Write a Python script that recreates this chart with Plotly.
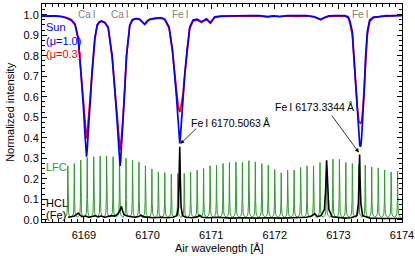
import plotly.graph_objects as go

# ---------------- data ----------------
sun_wl = [6168.338, 6168.45, 6168.55, 6168.65, 6168.73, 6168.80, 6168.859, 6168.911, 6168.953, 6168.989,
          6169.015, 6169.030, 6169.040, 6169.050, 6169.066, 6169.092, 6169.128, 6169.171, 6169.207, 6169.24,
          6169.276, 6169.328, 6169.380, 6169.443, 6169.485, 6169.521, 6169.548, 6169.560, 6169.568, 6169.576,
          6169.590, 6169.615, 6169.642, 6169.669, 6169.720, 6169.76, 6169.82, 6169.877, 6169.92, 6169.956,
          6169.99, 6170.035, 6170.12, 6170.218, 6170.27, 6170.338, 6170.391, 6170.427, 6170.454, 6170.479,
          6170.495, 6170.506, 6170.517, 6170.533, 6170.558, 6170.585, 6170.621, 6170.663, 6170.715, 6170.78,
          6170.847, 6170.926, 6170.988, 6171.056, 6171.15, 6171.3, 6171.45, 6171.6, 6171.75, 6171.889,
          6171.98, 6172.077, 6172.2, 6172.35, 6172.5, 6172.62, 6172.68, 6172.722, 6172.77, 6172.85,
          6172.95, 6173.098, 6173.15, 6173.177, 6173.219, 6173.244, 6173.271, 6173.298, 6173.323, 6173.335,
          6173.345, 6173.355, 6173.365, 6173.386, 6173.408, 6173.428, 6173.455, 6173.491, 6173.55, 6173.648,
          6173.75, 6173.85, 6174.0]
sun_mu10 = [0.993, 0.995, 0.994, 0.991, 0.985, 0.975, 0.955, 0.886, 0.72, 0.56,
            0.42, 0.34, 0.307, 0.34, 0.42, 0.56, 0.72, 0.886, 0.95, 0.965,
            0.969, 0.962, 0.94, 0.80, 0.64, 0.48, 0.35, 0.285, 0.262, 0.285,
            0.35, 0.48, 0.64, 0.80, 0.95, 0.975, 0.982, 0.978, 0.965, 0.953,
            0.968, 0.978, 0.983, 0.985, 0.978, 0.94, 0.83, 0.71, 0.60, 0.49,
            0.41, 0.372, 0.41, 0.49, 0.60, 0.71, 0.83, 0.94, 0.974, 0.978,
            0.966, 0.98, 0.961, 0.99, 0.993, 0.995, 0.994, 0.996, 0.995, 0.99,
            0.994, 0.991, 0.995, 0.994, 0.995, 0.99, 0.981, 0.977, 0.985, 0.994,
            0.995, 0.995, 0.99, 0.974, 0.917, 0.80, 0.64, 0.51, 0.40, 0.365,
            0.356, 0.365, 0.40, 0.51, 0.64, 0.80, 0.917, 0.974, 0.988, 0.99,
            0.995, 0.994, 0.997]
sun_mu03 = [0.993, 0.994, 0.993, 0.990, 0.983, 0.972, 0.950, 0.875, 0.71, 0.565,
            0.47, 0.415, 0.396, 0.415, 0.47, 0.575, 0.725, 0.88, 0.945, 0.962,
            0.967, 0.96, 0.935, 0.79, 0.64, 0.495, 0.40, 0.355, 0.340, 0.355,
            0.40, 0.50, 0.65, 0.80, 0.945, 0.972, 0.98, 0.976, 0.962, 0.952,
            0.965, 0.976, 0.981, 0.983, 0.975, 0.935, 0.82, 0.71, 0.615, 0.56,
            0.535, 0.526, 0.535, 0.56, 0.615, 0.71, 0.82, 0.932, 0.968, 0.974,
            0.962, 0.976, 0.958, 0.986, 0.991, 0.993, 0.995, 0.994, 0.993, 0.989,
            0.993, 0.99, 0.994, 0.992, 0.994, 0.989, 0.98, 0.975, 0.983, 0.992,
            0.993, 0.993, 0.985, 0.965, 0.90, 0.79, 0.65, 0.545, 0.48, 0.472,
            0.47, 0.472, 0.48, 0.545, 0.65, 0.80, 0.90, 0.965, 0.985, 0.99,
            0.994, 0.995, 0.996]

lfc_peak_wl = [6168.746, 6168.848, 6168.949, 6169.051, 6169.153, 6169.254, 6169.356, 6169.458, 6169.559, 6169.661,
               6169.763, 6169.864, 6169.966, 6170.068, 6170.169, 6170.271, 6170.373, 6170.474, 6170.576, 6170.677,
               6170.779, 6170.881, 6170.982, 6171.084, 6171.186, 6171.287, 6171.389, 6171.491, 6171.592, 6171.694,
               6171.796, 6171.897, 6171.999, 6172.101, 6172.202, 6172.304, 6172.406, 6172.507, 6172.609, 6172.711,
               6172.812, 6172.914, 6173.016, 6173.117, 6173.219, 6173.321, 6173.422, 6173.524, 6173.626, 6173.727,
               6173.829, 6173.931]
lfc_peak_int = [0.263, 0.274, 0.291, 0.304, 0.307, 0.310, 0.310, 0.307, 0.310, 0.300,
                0.290, 0.282, 0.263, 0.247, 0.233, 0.230, 0.222, 0.225, 0.226, 0.233,
                0.242, 0.250, 0.263, 0.266, 0.274, 0.279, 0.282, 0.279, 0.288, 0.282,
                0.274, 0.266, 0.245, 0.229, 0.242, 0.242, 0.255, 0.263, 0.263, 0.279,
                0.285, 0.295, 0.295, 0.279, 0.274, 0.270, 0.266, 0.258, 0.253, 0.242,
                0.233, 0.237]
lfc_base = 0.012

hcl_wl = [6168.75, 6168.80, 6168.85, 6168.88, 6168.91, 6168.94, 6168.97, 6169.02, 6169.08, 6169.13,
          6169.18, 6169.22, 6169.27, 6169.33, 6169.38, 6169.43, 6169.48, 6169.52, 6169.55, 6169.575,
          6169.59, 6169.605, 6169.63, 6169.68, 6169.74, 6169.80, 6169.86, 6169.90, 6169.94, 6170.00,
          6170.10, 6170.20, 6170.30, 6170.40, 6170.46, 6170.485, 6170.497, 6170.506, 6170.515, 6170.527,
          6170.55, 6170.60, 6170.70, 6170.78, 6170.82, 6170.86, 6170.95, 6171.10, 6171.30, 6171.50,
          6171.70, 6171.90, 6172.10, 6172.30, 6172.50, 6172.58, 6172.63, 6172.67, 6172.73, 6172.78,
          6172.80, 6172.815, 6172.83, 6172.85, 6172.90, 6173.00, 6173.10, 6173.20, 6173.29, 6173.315,
          6173.327, 6173.334, 6173.341, 6173.353, 6173.38, 6173.50, 6173.70, 6174.0]
hcl_int = [0.012, 0.015, 0.018, 0.025, 0.032, 0.022, 0.015, 0.018, 0.012, 0.016,
           0.020, 0.014, 0.018, 0.012, 0.016, 0.020, 0.018, 0.025, 0.035, 0.060,
           0.065, 0.045, 0.025, 0.018, 0.014, 0.012, 0.016, 0.022, 0.014, 0.012,
           0.010, 0.012, 0.010, 0.012, 0.020, 0.060, 0.200, 0.356, 0.200, 0.060,
           0.020, 0.012, 0.010, 0.014, 0.022, 0.012, 0.010, 0.012, 0.008, 0.010,
           0.008, 0.010, 0.008, 0.010, 0.012, 0.018, 0.030, 0.015, 0.020, 0.050,
           0.150, 0.290, 0.150, 0.050, 0.015, 0.010, 0.008, 0.010, 0.020, 0.080,
           0.200, 0.318, 0.200, 0.080, 0.020, 0.008, 0.006, 0.006]

line_ids = ["Ca\u2009I", "Ca\u2009I", "Fe\u2009I", "Fe\u2009I"]
line_wl = [6169.042, 6169.563, 6170.506, 6173.334]

x_ticks = [6169, 6170, 6171, 6172, 6173, 6174]
y_ticks = [0.0, 0.1, 0.2, 0.3, 0.4, 0.5, 0.6, 0.7, 0.8, 0.9, 1.0]

# ------------- build LFC polyline from peaks (drawing profile) -------------
prof_dx = [-0.05, -0.025, -0.012, -0.005, 0.0, 0.005, 0.012, 0.025, 0.05]
prof_fr = [0.0, 0.03, 0.08, 0.3, 1.0, 0.3, 0.08, 0.03, 0.0]
lfc_x, lfc_y = [], []
for c, h in zip(lfc_peak_wl, lfc_peak_int):
    for dx, fr in zip(prof_dx, prof_fr):
        lfc_x.append(c + dx)
        lfc_y.append(lfc_base + fr * (h - lfc_base))

FONT = "Liberation Sans, Arial, sans-serif"
GREEN = "#2f9a2f"

fig = go.Figure()
fig.add_trace(go.Scatter(x=lfc_x, y=lfc_y, mode="lines",
                         line=dict(color=GREEN, width=1), hoverinfo="skip"))
fig.add_trace(go.Scatter(x=hcl_wl, y=hcl_int, mode="lines",
                         line=dict(color="black", width=1.6), hoverinfo="skip"))
fig.add_trace(go.Scatter(x=sun_wl, y=sun_mu03, mode="lines",
                         line=dict(color="#ff0000", width=1.7), hoverinfo="skip"))
fig.add_trace(go.Scatter(x=sun_wl, y=sun_mu10, mode="lines",
                         line=dict(color="#0000ff", width=1.7), hoverinfo="skip"))

ann = []
for lab, wl in zip(line_ids, line_wl):
    ann.append(dict(x=wl, y=1.003, xref="x", yref="y", text=lab, showarrow=False,
                    font=dict(size=10, color="#808080", family=FONT), yanchor="middle"))

def txt(x, y, s, color, size=11, xanchor="left"):
    return dict(x=x, y=y, xref="x", yref="y", text=s, showarrow=False, xanchor=xanchor,
                yanchor="middle", font=dict(size=size, color=color, family=FONT))

ann += [
    txt(6168.37, 0.938, "Sun", "#0000ff"),
    txt(6168.37, 0.870, "(\u03bc=1.0)", "#0000ff"),
    txt(6168.37, 0.807, "(\u03bc=0.3)", "#ff0000"),
    txt(6168.37, 0.258, "LFC", GREEN),
    txt(6168.37, 0.082, "HCL", "black"),
    txt(6168.37, 0.022, "(Fe)", "black"),
    txt(6170.65, 0.471, "Fe\u2009I 6170.5063\u2009\u00c5", "black", size=10.5),
    txt(6171.97, 0.552, "Fe\u2009I 6173.3344\u2009\u00c5", "black", size=10.5),
]
ann.append(dict(x=6170.515, y=0.370, ax=6170.79, ay=0.452, xref="x", yref="y", axref="x", ayref="y",
                text="", showarrow=True, arrowhead=2, arrowsize=1, arrowwidth=0.8, arrowcolor="black"))
ann.append(dict(x=6173.322, y=0.328, ax=6172.88, ay=0.515, xref="x", yref="y", axref="x", ayref="y",
                text="", showarrow=True, arrowhead=2, arrowsize=1, arrowwidth=0.8, arrowcolor="black"))
# axis titles
ann.append(dict(x=0.494, y=-0.119, xref="paper", yref="paper", text="Air wavelength [\u00c5]",
                showarrow=False, xanchor="center", yanchor="middle",
                font=dict(size=11, color="black", family=FONT)))
ann.append(dict(x=-0.089, y=0.505, xref="paper", yref="paper", text="Normalized intensity",
                showarrow=False, xanchor="center", yanchor="middle", textangle=-90,
                font=dict(size=11, color="black", family=FONT)))

fig.update_layout(
    width=415, height=256,
    margin=dict(l=42, r=13, t=4, b=34, autoexpand=False),
    paper_bgcolor="white", plot_bgcolor="white",
    showlegend=False,
    font=dict(family=FONT, size=11, color="black"),
    annotations=ann,
)
fig.update_xaxes(range=[6168.34, 6174.0], tickvals=x_ticks, ticktext=[str(v) for v in x_ticks],
                 ticks="inside", ticklen=5, tickwidth=1, tickcolor="black",
                 minor=dict(dtick=0.1, ticks="inside", ticklen=3, tickcolor="black", showgrid=False),
                 showline=True, linecolor="black", linewidth=1, mirror="allticks",
                 showgrid=False, zeroline=False, automargin=False, ticklabelstandoff=3,
                 tickfont=dict(size=11))
fig.update_yaxes(range=[-0.011, 1.052], tickvals=y_ticks, ticktext=["%.1f" % v for v in y_ticks],
                 ticks="inside", ticklen=5, tickwidth=1, tickcolor="black",
                 minor=dict(dtick=0.025, ticks="inside", ticklen=3, tickcolor="black", showgrid=False),
                 showline=True, linecolor="black", linewidth=1, mirror="allticks",
                 showgrid=False, zeroline=False, automargin=False,
                 tickfont=dict(size=11))

fig.write_html("out.html", config={"displayModeBar": False, "staticPlot": True},
               post_script="document.body.style.margin='0px';document.body.style.padding='0px';"
                           "document.documentElement.style.overflow='hidden';")
